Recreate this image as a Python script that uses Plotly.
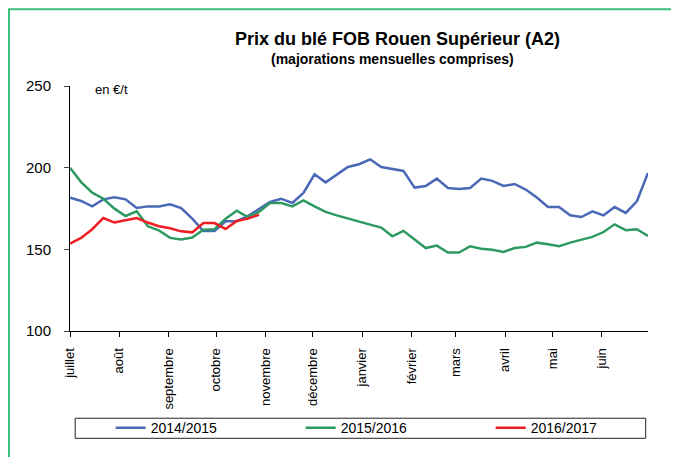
import pandas as pd
import plotly.graph_objects as go

# weekly prices, one point per week from early July
prix_2014_2015 = [181.6, 179.6, 176.3, 180.6, 181.8, 180.6, 175.3, 176.3, 176.3, 177.6,
                  175.3, 168.8, 161.2, 161.2, 167.2, 167.2, 170.4, 174.9, 179.0, 181.0,
                  178.4, 184.5, 195.9, 191.0, 195.7, 200.4, 202.1, 205.1, 200.4, 199.0,
                  198.0, 187.8, 188.8, 193.3, 187.6, 187.0, 187.6, 193.3, 191.9, 188.8,
                  190.0, 186.6, 181.7, 175.9, 175.9, 170.8, 169.8, 173.3, 170.8, 175.9,
                  172.3, 179.4, 196.8]
prix_2015_2016 = [200.0, 191.2, 184.7, 181.0, 174.9, 170.4, 173.3, 164.1, 161.6, 157.0,
                  156.1, 157.2, 162.0, 162.3, 168.8, 173.7, 169.8, 172.9, 178.4, 178.4,
                  176.3, 180.0, 176.3, 172.9, 170.8, 168.8, 166.8, 165.1, 163.3, 158.0,
                  161.3, 156.0, 150.8, 152.3, 148.0, 148.0, 151.9, 150.4, 149.8, 148.4,
                  150.8, 151.5, 154.1, 153.1, 151.9, 154.1, 155.7, 157.6, 160.6, 165.3,
                  161.7, 162.3, 158.2]
prix_2016_2017 = [153.5, 157.0, 162.3, 169.2, 166.4, 167.6, 169.2, 166.4, 164.1, 162.9,
                  161.0, 160.4, 166.1, 166.1, 162.5, 167.4, 168.8, 171.2]

mois = ["juillet", "août", "septembre", "octobre", "novembre", "décembre",
        "janvier", "février", "mars", "avril", "mai", "juin"]

semaines = pd.date_range("2014-07-01", periods=len(prix_2014_2015), freq="7D")
debuts_mois = pd.date_range("2014-07-01", periods=len(mois), freq="MS")

FONT = "Arial, Liberation Sans, sans-serif"

fig = go.Figure()
series = [
    ("2014/2015", prix_2014_2015, "#4A68B6"),
    ("2015/2016", prix_2015_2016, "#2E9A62"),
    ("2016/2017", prix_2016_2017, "#EE1D24"),
]
for name, vals, col in series:
    fig.add_trace(go.Scatter(x=semaines[:len(vals)], y=vals, name=name, mode="lines",
                             line=dict(color=col, width=2.5)))

# page body has an 8px margin, so the figure is drawn 8px smaller
fig.update_layout(
    width=671, height=449,
    margin=dict(l=62, r=31, t=78, b=126, autoexpand=False),
    paper_bgcolor="white", plot_bgcolor="white",
    font=dict(family=FONT, size=13, color="black"),
    showlegend=True,
    legend=dict(orientation="h", xref="container", x=0.153, y=-0.397,
                xanchor="left", yanchor="middle",
                entrywidth=145, font=dict(size=14), bgcolor="rgba(0,0,0,0)"),
)
fig.update_xaxes(range=["2014-07-01", "2015-06-30"], tickvals=debuts_mois, ticktext=mois,
                 tickangle=-90, showgrid=False, zeroline=False, showline=True,
                 linecolor="black", linewidth=1, ticks="outside", ticklen=5,
                 tickcolor="black", ticklabelstandoff=6, tickfont=dict(size=13))
fig.update_yaxes(range=[100, 250], dtick=50, showgrid=False, zeroline=False,
                 showline=True, linecolor="black", linewidth=1, ticks="outside",
                 ticklen=5, tickcolor="#444", ticklabelstandoff=10, tickfont=dict(size=15))

fig.add_annotation(text="<b>Prix du blé FOB Rouen Supérieur (A2)</b>", xref="paper", yref="paper",
                   x=0.567, y=1.19, yanchor="middle", showarrow=False, font=dict(size=18))
fig.add_annotation(text="<b>(majorations mensuelles comprises)</b>", xref="paper", yref="paper",
                   x=0.558, y=1.112, yanchor="middle", showarrow=False, font=dict(size=14))
fig.add_annotation(text="en €/t", xref="paper", yref="paper", x=0.04, y=0.987,
                   xanchor="left", yanchor="middle", showarrow=False, font=dict(size=13))

# legend frame and outer green frame
fig.add_shape(type="rect", xref="paper", yref="paper", x0=0.009, x1=0.996, y0=-0.438, y1=-0.356,
              line=dict(color="#222", width=1))
fig.add_shape(type="rect", xref="paper", yref="paper", x0=-0.1055, x1=1.3, y0=-0.7, y1=1.313,
              line=dict(color="#3DBF7C", width=2))

fig.write_html("out.html")
